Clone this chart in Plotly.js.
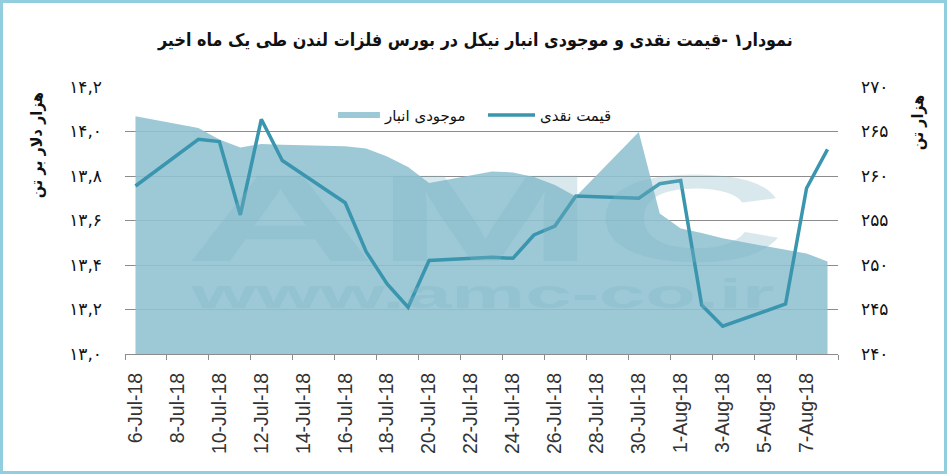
<!DOCTYPE html>
<html><head><meta charset="utf-8">
<script src="https://cdn.plot.ly/plotly-3.0.1.min.js"></script>
<style>
html,body{margin:0;padding:0;background:#fff;}
#wrap{position:relative;width:947px;height:474px;}
#chart{width:947px;height:474px;}
#frame{position:absolute;left:0;top:0;width:947px;height:474px;box-sizing:border-box;border:3px solid #93CEDE;pointer-events:none;}
</style></head><body>
<div id="wrap"><div id="chart"></div><div id="frame"></div></div>
<script>
// ---- data ----
const dates = ['2018-07-06','2018-07-09','2018-07-10','2018-07-11','2018-07-12','2018-07-13',
  '2018-07-16','2018-07-17','2018-07-18','2018-07-19','2018-07-20',
  '2018-07-23','2018-07-24','2018-07-25','2018-07-26','2018-07-27',
  '2018-07-30','2018-07-31','2018-08-01','2018-08-02','2018-08-03',
  '2018-08-06','2018-08-07','2018-08-08'];
// spot price, thousand USD per tonne (left axis)
const price = [13.755,13.965,13.955,13.625,14.055,13.87,
  13.68,13.46,13.315,13.21,13.42,
  13.435,13.43,13.535,13.575,13.71,
  13.70,13.765,13.78,13.22,13.125,
  13.225,13.745,13.92];
// warehouse stock, thousand tonnes (right axis)
const stock = [266.7,265.4,264.1,263.2,263.6,263.5,
  263.35,263.1,262.2,261.0,259.2,
  260.5,260.4,259.9,259.0,257.7,
  264.95,255.8,254.1,253.6,253.0,
  251.7,251.3,250.4];
const xTickDates = ['2018-07-06','2018-07-08','2018-07-10','2018-07-12','2018-07-14','2018-07-16',
  '2018-07-18','2018-07-20','2018-07-22','2018-07-24','2018-07-26','2018-07-28','2018-07-30',
  '2018-08-01','2018-08-03','2018-08-05','2018-08-07'];
const xTickLabels = ['6-Jul-18','8-Jul-18','10-Jul-18','12-Jul-18','14-Jul-18','16-Jul-18',
  '18-Jul-18','20-Jul-18','22-Jul-18','24-Jul-18','26-Jul-18','28-Jul-18','30-Jul-18',
  '1-Aug-18','3-Aug-18','5-Aug-18','7-Aug-18'];
const priceTicks = [13.0,13.2,13.4,13.6,13.8,14.0,14.2];
const priceTickLabels = ['۱۳,۰','۱۳,۲','۱۳,۴','۱۳,۶','۱۳,۸','۱۴,۰','۱۴,۲'];
const stockTicks = [240,245,250,255,260,265,270];
const stockTickLabels = ['۲۴۰','۲۴۵','۲۵۰','۲۵۵','۲۶۰','۲۶۵','۲۷۰'];
const seriesNames = ['موجودی انبار','قیمت نقدی'];
const titleText = 'نمودار۱ -قیمت نقدی و موجودی انبار نیکل در بورس فلزات لندن طی یک ماه اخیر';
const leftTitle = 'هزار دلار بر تن';
const rightTitle = 'هزار تن';

const fa = 'DejaVu Sans, Noto Sans, sans-serif';
const faC = 'DejaVu Sans Condensed, DejaVu Sans, sans-serif';

const traces = [
  {x: dates, y: stock, yaxis: 'y', type: 'scatter', mode: 'none', fill: 'tozeroy',
   fillcolor: 'rgba(145,194,209,0.89)', name: seriesNames[0], legend: 'legend', hoverinfo: 'skip'},
  {x: dates, y: price, yaxis: 'y2', type: 'scatter', mode: 'lines',
   line: {color: '#3A95AE', width: 3.5}, name: seriesNames[1], legend: 'legend2'}
];

const legFont = {family: fa, size: 15, color: '#111'};
const layout = {
  width: 947, height: 474,
  margin: {l: 125, r: 109, t: 87, b: 120},
  paper_bgcolor: '#fff', plot_bgcolor: 'rgba(0,0,0,0)',
  showlegend: true,
  title: {text: '<b>' + titleText + '</b>', font: {family: faC, size: 17.8, color: '#111'},
    xref: 'container', yref: 'container', x: 0.502, xanchor: 'center', y: 0.9156, yanchor: 'middle'},
  legend: {orientation: 'h', x: 0.2917, xanchor: 'left', y: 0.894, yanchor: 'middle',
    bgcolor: 'rgba(0,0,0,0)', font: legFont, itemwidth: 42},
  legend2: {orientation: 'h', x: 0.5021, xanchor: 'left', y: 0.894, yanchor: 'middle',
    bgcolor: 'rgba(0,0,0,0)', font: legFont, itemwidth: 47},
  xaxis: {type: 'date', range: ['2018-07-05 12:00', '2018-08-08 12:00'],
    tickmode: 'array', tickvals: xTickDates, ticktext: xTickLabels, tickangle: -90,
    ticks: '', showgrid: false, zeroline: false, showline: true, linecolor: '#8c8c8c', linewidth: 1,
    minor: {ticks: 'outside', ticklen: 5, tickcolor: '#8c8c8c', tickwidth: 1,
      tick0: '2018-07-05 12:00', dtick: 172800000, showgrid: false},
    tickfont: {family: 'Liberation Sans, Arial, sans-serif', size: 19.5, color: '#333'},
    ticklabelstandoff: 10},
  yaxis: {side: 'right', range: [240, 270], tickmode: 'array', tickvals: stockTicks, ticktext: stockTickLabels,
    showgrid: true, gridcolor: '#8c8c8c', gridwidth: 1, zeroline: false, ticks: '', showline: false,
    tickfont: {family: fa, size: 17, color: '#111'}, ticklabelstandoff: 22},
  yaxis2: {overlaying: 'y', side: 'left', range: [13.0, 14.2], tickmode: 'array', tickvals: priceTicks,
    ticktext: priceTickLabels, showgrid: false, zeroline: false, ticks: '', showline: false,
    tickfont: {family: fa, size: 17, color: '#111'}, ticklabelstandoff: 22},
  annotations: [
    {text: '<b>' + leftTitle + '</b>', xref: 'paper', yref: 'paper', x: -0.1248, y: 0.782, textangle: -90,
     showarrow: false, font: {family: faC, size: 16, color: '#111'}, xanchor: 'center', yanchor: 'middle'},
    {text: '<b>' + rightTitle + '</b>', xref: 'paper', yref: 'paper', x: 1.1108, y: 0.868, textangle: -90,
     showarrow: false, font: {family: faC, size: 16, color: '#111'}, xanchor: 'center', yanchor: 'middle'},
    {text: '<b>AMC</b>', xref: 'paper', yref: 'paper', x: 0.505, y: 0.51, showarrow: false,
     font: {family: 'Liberation Sans, Arial, sans-serif', size: 124, color: 'rgba(126,178,197,0.30)'},
     xanchor: 'center', yanchor: 'middle'},
    {text: '<b>www.amc-co.ir</b>', xref: 'paper', yref: 'paper', x: 0.502, y: 0.225, showarrow: false,
     font: {family: 'Liberation Sans, Arial, sans-serif', size: 41, color: 'rgba(126,178,197,0.30)'},
     xanchor: 'center', yanchor: 'middle'}
  ]
};

Plotly.newPlot('chart', traces, layout, {staticPlot: true, displayModeBar: false}).then(function(gd){
  const stretch = {'AMC': 600, 'www.amc-co.ir': 583};
  gd.querySelectorAll('.annotation-text').forEach(function(t){
    const s = t.textContent;
    if (stretch[s]) {
      t.setAttribute('textLength', stretch[s]);
      t.setAttribute('lengthAdjust', 'spacingAndGlyphs');
    }
  });
});
</script>
</body></html>
